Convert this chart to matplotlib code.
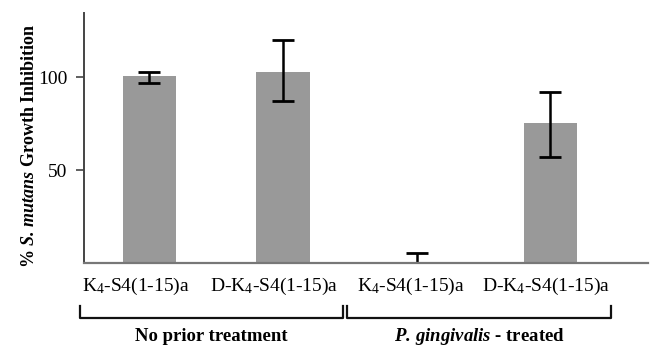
import numpy as np
import matplotlib
matplotlib.use("Agg")
import matplotlib.pyplot as plt
import matplotlib.transforms as mtransforms

plt.rcParams['font.family'] = ['Liberation Serif', 'DejaVu Serif']
plt.rcParams['mathtext.fontset'] = 'custom'
plt.rcParams['mathtext.rm'] = 'Liberation Serif'
plt.rcParams['mathtext.it'] = 'Liberation Serif:italic'
plt.rcParams['mathtext.bf'] = 'Liberation Serif:bold'
plt.rcParams['mathtext.bfit'] = 'Liberation Serif:bold:italic'

# data
peptides = [r'K$_4$-S4(1-15)a', r'D-K$_4$-S4(1-15)a',
            r'K$_4$-S4(1-15)a', r'D-K$_4$-S4(1-15)a']
inhibition = [100.5, 102.9, 0.0, 75.3]
err_lower = [3.6, 15.8, 0.0, 18.3]
err_upper = [2.5, 17.0, 5.4, 16.7]
groups = ['No prior treatment',
          r'$\mathbfit{P.\,gingivalis}$ - treated']
group_members = [[0, 1], [2, 3]]
yticks = [50, 100]

fig = plt.figure(figsize=(6.5, 3.47), dpi=100)
ax = fig.add_axes([0.129, 0.242, 0.868, 0.7205])

x = np.arange(len(inhibition))
ax.bar(x, inhibition, width=0.4, color='#999999', zorder=1)
ax.errorbar(x, inhibition, yerr=[err_lower, err_upper], fmt='none',
            ecolor='black', elinewidth=1.8, capsize=8, capthick=2, zorder=2)

ax.set_xlim(-0.49, 3.73)
ax.set_ylim(0, 134.5)
ax.set_yticks(yticks)
ax.set_yticklabels([str(t) for t in yticks], fontsize=14)
ax.tick_params(axis='y', direction='out', length=6, width=1.2,
               color='#444444', pad=6)

# x labels sit a bit left of the bar centres in the original
label_shift = [-0.1, -0.07, -0.045, -0.03]
ax.set_xticks(x + np.array(label_shift))
ax.set_xticklabels(peptides, fontsize=14)
ax.tick_params(axis='x', length=0, pad=9)

for side in ['top', 'right']:
    ax.spines[side].set_visible(False)
ax.spines['left'].set_color('#444444')
ax.spines['left'].set_linewidth(1.4)
ax.spines['bottom'].set_color('#777777')
ax.spines['bottom'].set_linewidth(1.6)

ax.set_ylabel(r'% $\mathbfit{S.\,mutans}$ Growth Inhibition',
              fontsize=13, fontweight='bold')
ax.yaxis.set_label_coords(-0.082, 0.47)

trans = mtransforms.blended_transform_factory(ax.transData, ax.transAxes)
for name, members in zip(groups, group_members):
    left = members[0] - 0.52
    right = members[-1] + 0.45
    ax.plot([left, left, right, right], [-0.17, -0.22, -0.22, -0.17],
            transform=trans, clip_on=False, color='#111111', lw=1.6)
    ax.text((left + right) / 2, -0.295, name, transform=trans,
            ha='center', va='center', fontsize=13.5, fontweight='bold')

fig.savefig('out.png', dpi=100)
